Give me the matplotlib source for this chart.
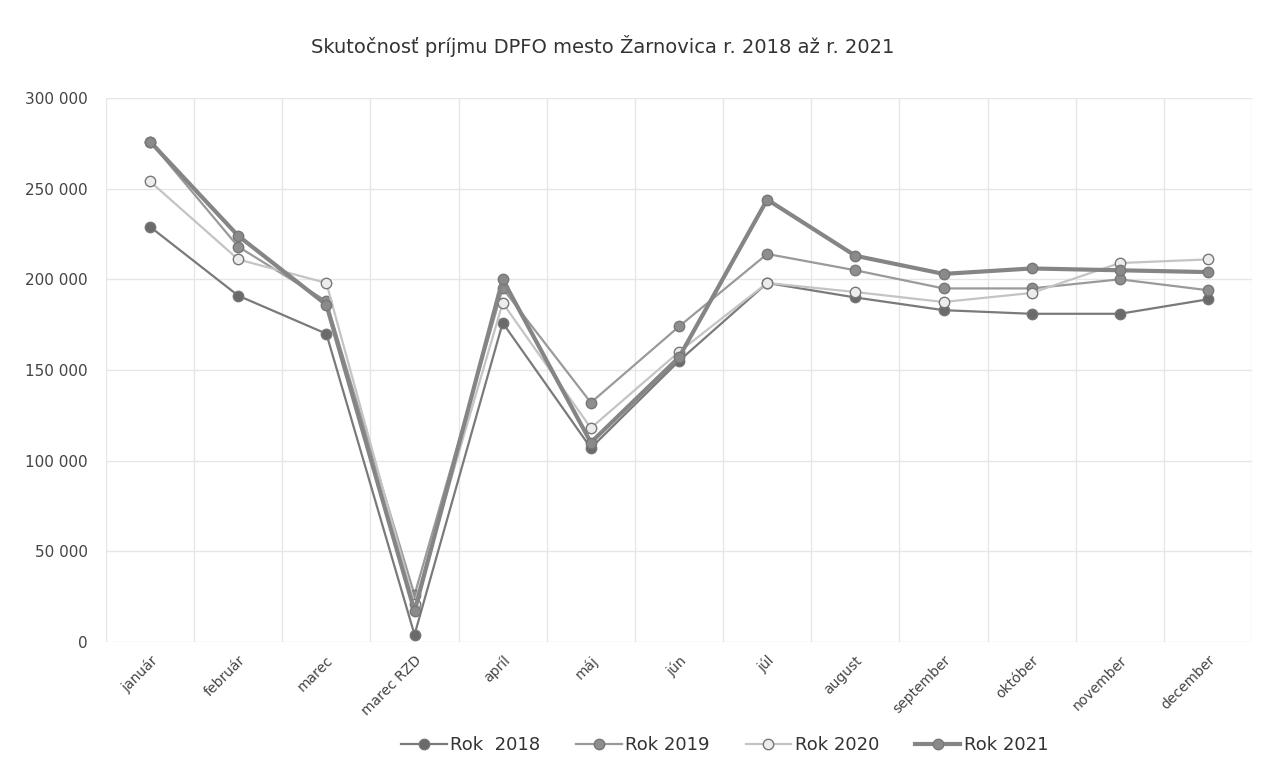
import matplotlib
matplotlib.use("Agg")
import matplotlib.pyplot as plt
from matplotlib.ticker import FuncFormatter
import numpy as np

months = ['január', 'február', 'marec', 'marec RZD', 'apríl', 'máj', 'jún',
          'júl', 'august', 'september', 'október', 'november', 'december']

rok_2018 = [229000, 191000, 170000, 4000, 176000, 107000, 155000,
            198000, 190000, 183000, 181000, 181000, 189000]
rok_2019 = [276000, 218000, 188000, 26000, 195000, 132000, 174000,
            214000, 205000, 195000, 195000, 200000, 194000]
rok_2020 = [254000, 211000, 198000, 21000, 187000, 118000, 160000,
            198000, 193000, 187500, 192500, 209000, 211000]
rok_2021 = [276000, 224000, 186000, 17000, 200000, 110000, 157000,
            244000, 213000, 203000, 206000, 205000, 204000]

series = [
    ('Rok  2018', rok_2018, '#7a7a7a', '#6a6a6a', 1.6),
    ('Rok 2019', rok_2019, '#9a9a9a', '#8e8e8e', 1.6),
    ('Rok 2020', rok_2020, '#c4c4c4', '#ececec', 1.6),
    ('Rok 2021', rok_2021, '#858585', '#8a8a8a', 3.0),
]

fig = plt.figure(figsize=(12.66, 7.64), dpi=100)
ax = fig.add_axes([0.0837, 0.1597, 0.9053, 0.712])

x = np.arange(len(months))
for label, vals, col, fill, lw in series:
    ax.plot(x, vals, color=col, lw=lw, marker='o', markersize=7.5,
            markerfacecolor=fill, markeredgecolor='#777777',
            markeredgewidth=1.0, label=label)

ax.set_xlim(-0.5, len(months) - 0.5)
ax.set_ylim(0, 300000)
ax.set_yticks(np.arange(0, 300001, 50000))
ax.yaxis.set_major_formatter(FuncFormatter(lambda v, p: f'{int(v):,}'.replace(',', ' ')))
ax.set_xticks(x)
ax.set_xticklabels(months, rotation=45, ha='right', rotation_mode='anchor',
                   fontsize=10, color='#444444')
ax.set_xticks(np.arange(-0.5, len(months), 1), minor=True)
ax.tick_params(axis='y', labelsize=11, colors='#444444', length=0, pad=13)
ax.tick_params(axis='x', which='both', length=0, pad=8)
ax.grid(axis='y', which='major', color='#e6e6e6', lw=1)
ax.grid(axis='x', which='minor', color='#e6e6e6', lw=1)
ax.set_axisbelow(True)
for s in ax.spines.values():
    s.set_visible(False)

fig.text(0.476, 0.94, 'Skutočnosť príjmu DPFO mesto Žarnovica r. 2018 až r. 2021',
         ha='center', va='center', fontsize=14, color='#333333')

leg = ax.legend(loc='center', bbox_to_anchor=(0.54, -0.19), ncol=4, frameon=False,
                prop={'size': 13}, handlelength=2.5,
                handletextpad=0.2, columnspacing=2.0)
for t in leg.get_texts():
    t.set_color('#333333')

fig.savefig('out.png', dpi=100, facecolor='white')
